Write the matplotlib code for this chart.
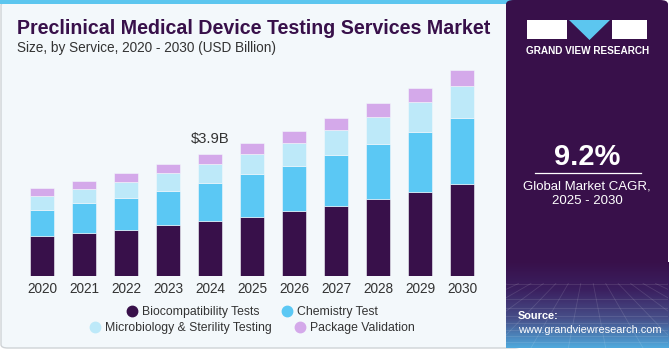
import numpy as np
import matplotlib
matplotlib.use("Agg")
from matplotlib import pyplot as plt
from matplotlib.patches import FancyBboxPatch, Rectangle, Polygon
from matplotlib.lines import Line2D
from matplotlib.colors import LinearSegmentedColormap

years = ["2020", "2021", "2022", "2023", "2024", "2025", "2026", "2027", "2028", "2029", "2030"]
biocompatibility = [1.28, 1.38, 1.48, 1.63, 1.76, 1.90, 2.08, 2.25, 2.46, 2.69, 2.93]
chemistry = [0.83, 0.94, 1.01, 1.10, 1.21, 1.36, 1.44, 1.62, 1.76, 1.92, 2.12]
microbiology = [0.45, 0.46, 0.51, 0.55, 0.61, 0.64, 0.74, 0.80, 0.86, 0.96, 1.03]
package_validation = [0.25, 0.27, 0.28, 0.31, 0.32, 0.35, 0.38, 0.38, 0.45, 0.45, 0.52]
series_names = ["Biocompatibility Tests", "Chemistry Test",
                "Microbiology & Sterility Testing", "Package Validation"]
colors = ["#38104a", "#5bc8f4", "#bde9f9", "#d4a9ea"]

plt.rcParams['font.family'] = ['Liberation Sans', 'DejaVu Sans']

W, H = 671, 350
fig = plt.figure(figsize=(W / 100, H / 100), dpi=100)
fig.patch.set_facecolor("white")

def fx(px):
    return px / W

def fy(py):
    return 1 - py / H

# main light panel
fig.patches.append(FancyBboxPatch((fx(1), fy(348)), fx(520), fy(2) - fy(348),
                                  boxstyle="round,pad=0,rounding_size=0.01",
                                  transform=fig.transFigure, fc="#f3f8fb", ec="#cfd3d6", lw=1,
                                  zorder=-5))
fig.patches.append(Rectangle((0, fy(4)), fx(520), fy(0) - fy(4), transform=fig.transFigure,
                             fc="#5cc6ef", ec="none", zorder=-4))

# right dark panel
fig.patches.append(FancyBboxPatch((fx(506), fy(348)), fx(162), fy(0) - fy(348),
                                  boxstyle="round,pad=0,rounding_size=0.012",
                                  transform=fig.transFigure, fc="#38104a", ec="none", zorder=2))
gax = fig.add_axes([fx(506), fy(348), fx(162), fy(262) - fy(348)], zorder=3)
grad = np.linspace(0, 1, 100)[:, None]
cmap = LinearSegmentedColormap.from_list("g", ["#38104a", "#3b2060", "#47508a", "#4fa8dc"])
gax.imshow(grad, aspect="auto", cmap=cmap, extent=[0, 1, 0, 1], origin="upper")
for k in range(14):
    gax.plot([k / 13, 0.5 + (k / 13 - 0.5) * 3], [0.75, 0], color="white", alpha=0.12, lw=0.6)
for k in range(8):
    yy = 0.75 * (1 - (k / 8) ** 0.7)
    gax.plot([0, 1], [yy, yy], color="white", alpha=0.12, lw=0.6)
gax.set_xlim(0, 1)
gax.set_ylim(0, 1)
gax.axis("off")

# logo
fig.patches.append(Rectangle((fx(527), fy(39)), fx(40), fy(20) - fy(39), transform=fig.transFigure,
                             fc="white", ec="none", zorder=4))
fig.patches.append(Rectangle((fx(612), fy(39)), fx(35), fy(20) - fy(39), transform=fig.transFigure,
                             fc="white", ec="none", zorder=4))
fig.patches.append(Polygon([(fx(569), fy(20)), (fx(610), fy(20)), (fx(589.5), fy(40))],
                           transform=fig.transFigure, fc="#5cc6ef", ec="none", zorder=4))
fig.text(fx(587.5), fy(51), "GRAND VIEW RESEARCH", color="white", fontsize=7.2, weight="bold",
         ha="center", va="center", zorder=5)

fig.text(fx(587), fy(157), "9.2%", color="white", fontsize=21, weight="bold",
         ha="center", va="center", zorder=5)
fig.lines.append(Line2D([fx(535), fx(641)], [fy(173), fy(173)], transform=fig.transFigure,
                        color="white", lw=0.9, zorder=5))
fig.text(fx(587), fy(186), "Global Market CAGR,", color="white", fontsize=9.5,
         ha="center", va="center", zorder=5)
fig.text(fx(587), fy(201), "2025 - 2030", color="white", fontsize=9.5,
         ha="center", va="center", zorder=5)
fig.text(fx(518), fy(316), "Source:", color="white", fontsize=7.9, weight="bold",
         ha="left", va="center", zorder=5)
fig.text(fx(518), fy(330), "www.grandviewresearch.com", color="white", fontsize=7.9,
         ha="left", va="center", zorder=5)

# titles
fig.text(fx(17), fy(29), "Preclinical Medical Device Testing Services Market", color="#38104a",
         fontsize=14.1, weight="heavy", ha="left", va="center")
fig.text(fx(17), fy(48), "Size, by Service, 2020 - 2030 (USD Billion)", color="#333333",
         fontsize=9.8, ha="left", va="center")

# bar chart
ax = fig.add_axes([fx(20), fy(276), fx(464), fy(60) - fy(276)], zorder=1)
ax.set_facecolor("none")
x = np.arange(len(years))
bottom = np.zeros(len(years))
for vals, name, c in zip([biocompatibility, chemistry, microbiology, package_validation],
                         series_names, colors):
    ax.bar(x, vals, bottom=bottom, width=0.57, color=c, edgecolor="#f3f8fb", lw=0.4, label=name)
    bottom += np.array(vals)
ax.set_xlim(-0.524, 10.52)
ax.set_ylim(0, 216 * 3.9 / 122)
ax.set_xticks(x)
ax.set_xticklabels(years, fontsize=9.8, color="#333333")
ax.tick_params(axis="x", length=0, pad=4)
ax.set_yticks([])
for s in ax.spines.values():
    s.set_visible(False)
ax.annotate("$3.9B", (x[4], bottom[4]), xytext=(0, 11), textcoords="offset points",
            ha="center", va="center", fontsize=10.6, color="#333333")

# legend, two centered rows
def handle(c):
    return Line2D([], [], marker="o", ls="none", ms=7.5, mfc=c, mec=c)

leg1 = fig.legend([handle(colors[0]), handle(colors[1])], series_names[:2], ncol=2,
                  loc="center", bbox_to_anchor=(fx(252), fy(312)), frameon=False,
                  fontsize=8.8, handletextpad=0.3, columnspacing=1.8, handlelength=1)
leg2 = fig.legend([handle(colors[2]), handle(colors[3])], series_names[2:], ncol=2,
                  loc="center", bbox_to_anchor=(fx(252), fy(328)), frameon=False,
                  fontsize=8.8, handletextpad=0.3, columnspacing=1.8, handlelength=1)
for lg in (leg1, leg2):
    for t in lg.get_texts():
        t.set_color("#333333")

fig.savefig("out.png", dpi=100, facecolor=fig.get_facecolor())
